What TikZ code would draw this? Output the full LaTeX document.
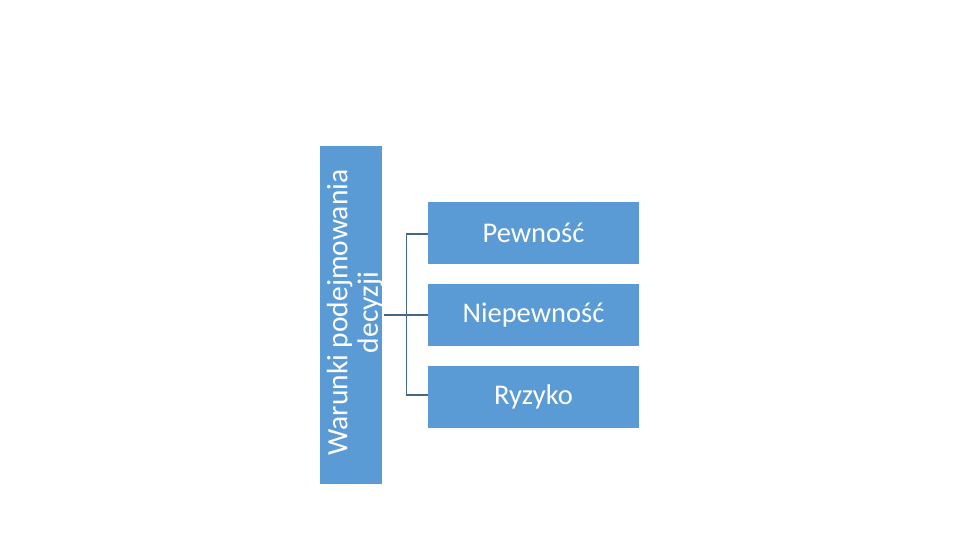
\documentclass[tikz,border=0pt]{standalone}
\usepackage{fontspec}
\setmainfont{Carlito}
\definecolor{boxblue}{HTML}{5B9BD5}
\definecolor{linegray}{RGB}{70,102,134}
\begin{document}
\begin{tikzpicture}[x=1pt,y=-1pt,
  mainbox/.style={fill=boxblue, draw=none, minimum width=62pt, minimum height=338pt, inner sep=0pt},
  childbox/.style={fill=boxblue, draw=none, minimum width=211pt, minimum height=62pt, inner sep=0pt, text=white, font=\fontsize{28.5}{31}\selectfont},
  conn/.style={draw=linegray, line width=1.6pt}]
\useasboundingbox (0,0) rectangle (960,540);
\node[mainbox] (main) at (351,315) {};
\node[rotate=90, text=white, align=center, font=\fontsize{29.5}{30.5}\selectfont, inner sep=0pt] (mainlabel) at (355,312.5) {Warunki podejmowania\\decyzji};
\node[childbox] (c1) at (533.5,233) {Pewność};
\node[childbox] (c2) at (533.5,315) {Niepewność};
\node[childbox] (c3) at (533.5,396.5) {Ryzyko};
\coordinate (j) at (406.5,315);
\draw[conn] ([xshift=2pt]main.east |- j) -- (c2.west);
\draw[conn] (c1.west |- 0,234) -| (j |- 0,234) -- (j |- 0,395) -- (c3.west |- 0,395);
\end{tikzpicture}
\end{document}
